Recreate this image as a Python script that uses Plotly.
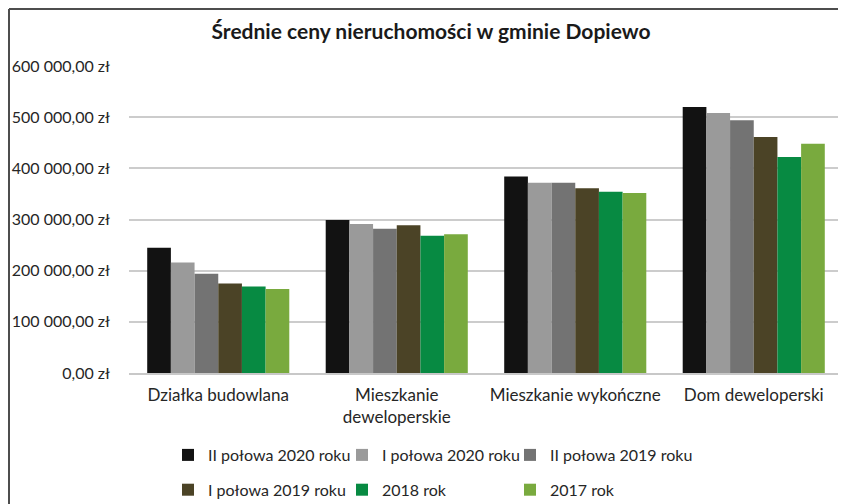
import plotly.graph_objects as go

categories = ["Działka budowlana", "Mieszkanie<br>deweloperskie", "Mieszkanie wykończne", "Dom deweloperski"]
series_names = ["II połowa 2020 roku", "I połowa 2020 roku", "II połowa 2019 roku",
                "I połowa 2019 roku", "2018 rok", "2017 rok"]
s_2020_h2 = [245000, 299000, 384000, 520000]
s_2020_h1 = [216000, 291000, 372000, 508000]
s_2019_h2 = [194000, 282000, 372000, 494000]
s_2019_h1 = [175000, 289000, 361000, 461000]
s_2018 = [169000, 268000, 354000, 422000]
s_2017 = [164000, 271000, 352000, 448000]
series_values = [s_2020_h2, s_2020_h1, s_2019_h2, s_2019_h1, s_2018, s_2017]
colors = ["#121212", "#9a9a9a", "#737373", "#4b4326", "#078a42", "#79aa3e"]
tick_vals = [0, 100000, 200000, 300000, 400000, 500000, 600000]
tick_text = ["0,00 zł", "100 000,00 zł", "200 000,00 zł", "300 000,00 zł",
             "400 000,00 zł", "500 000,00 zł", "600 000,00 zł"]
legend_of = ["legend", "legend2", "legend3", "legend", "legend2", "legend3"]

FONT = "Lato"
# the page body adds an 8px offset; the figure fills the rest of the window
W, H = 838, 496
L, R, T, B = 121, 3, 58, 131
PW, PH = W - L - R, H - T - B

fig = go.Figure()
for name, vals, col, lg in zip(series_names, series_values, colors, legend_of):
    fig.add_trace(go.Bar(x=categories, y=vals, name=name, marker_color=col,
                         marker_line_width=0, legend=lg, legendgroup=name))

leg_common = dict(orientation="v", yanchor="top", xanchor="left",
                  xref="container", yref="container",
                  font=dict(family=FONT, size=16, color="#262626"),
                  tracegroupgap=11, bgcolor="rgba(0,0,0,0)", itemwidth=30)
leg_y = 1 - 430 / H

fig.update_layout(
    width=W, height=H,
    paper_bgcolor="white", plot_bgcolor="white",
    margin=dict(l=L, r=R, t=T, b=B, autoexpand=False),
    barmode="group", bargap=0.204, bargroupgap=0,
    font=dict(family=FONT, size=16, color="#262626"),
    title=dict(text="<b>Średnie ceny nieruchomości w gminie Dopiewo</b>",
               x=423 / W, xanchor="center", y=1 - 24 / H, yanchor="middle",
               xref="container", yref="container",
               font=dict(family=FONT, size=21, color="#1a1a1a")),
    xaxis=dict(showgrid=False, showline=True, linecolor="#c8c8c8", linewidth=1.5,
               ticks="", automargin=False, ticklabelstandoff=6,
               tickfont=dict(family=FONT, size=17, color="#262626")),
    yaxis=dict(range=[0, 600000], tickvals=tick_vals, ticktext=tick_text,
               showgrid=True, gridcolor="#cccccc", gridwidth=1.5,
               zeroline=False, showline=False, ticks="", automargin=False,
               ticklabelstandoff=18,
               tickfont=dict(family=FONT, size=16, color="#262626")),
    legend=dict(x=160 / W, y=leg_y, **leg_common),
    legend2=dict(x=334 / W, y=leg_y, **leg_common),
    legend3=dict(x=502 / W, y=leg_y, **leg_common),
    shapes=[
        dict(type="line", xref="paper", yref="paper",
             x0=-(L - 1) / PW, x1=1 + R / PW, y0=1 + (T - 1) / PH, y1=1 + (T - 1) / PH,
             line=dict(color="#4d4d4d", width=2)),
        dict(type="line", xref="paper", yref="paper",
             x0=-(L - 1) / PW, x1=-(L - 1) / PW, y0=1 + (T - 1) / PH, y1=-B / PH,
             line=dict(color="#4d4d4d", width=2)),
    ],
)

fig.write_html("out.html")
